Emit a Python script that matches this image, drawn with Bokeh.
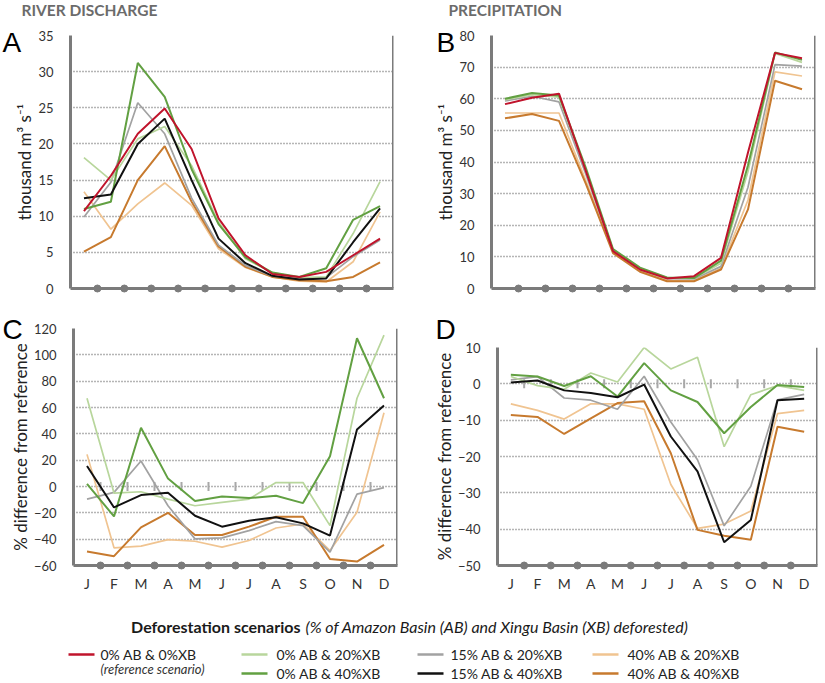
import math
from bokeh.plotting import figure
from bokeh.layouts import column, row
from bokeh.models import Range1d, FixedTicker, Span
from bokeh.embed import file_html
from bokeh.resources import INLINE
from bokeh.core.properties import value

# ---------------- data ----------------
MONTHS = ["J", "F", "M", "A", "M", "J", "J", "A", "S", "O", "N", "D"]

NAMES = {
    "ref": "0% AB & 0%XB",
    "g20": "0% AB & 20%XB",
    "g40": "0% AB & 40%XB",
    "k20": "15% AB & 20%XB",
    "k40": "15% AB & 40%XB",
    "o20": "40% AB & 20%XB",
    "o40": "40% AB & 40%XB",
}
REF_NOTE = "(reference scenario)"

# A: river discharge (thousand m3 s-1)
A_ref = [10.7, 15.6, 21.4, 24.9, 19.3, 9.7, 4.6, 2.0, 1.6, 2.3, 4.6, 6.9]
A_g20 = [18.1, 15.0, 20.7, 22.4, 17.0, 9.2, 4.1, 2.2, 1.5, 1.6, 7.6, 14.8]
A_g40 = [11.0, 12.0, 31.2, 26.5, 16.5, 8.9, 4.3, 2.2, 1.6, 2.8, 9.5, 11.4]
A_k20 = [9.9, 14.7, 25.7, 21.4, 12.5, 6.0, 3.2, 1.7, 1.4, 1.5, 4.4, 6.7]
A_k40 = [12.5, 13.0, 20.0, 23.5, 15.0, 6.9, 3.5, 1.75, 1.25, 1.4, 6.4, 11.1]
A_o20 = [13.4, 8.2, 11.7, 14.6, 11.5, 5.5, 2.9, 1.6, 1.0, 0.9, 3.7, 10.6]
A_o40 = [5.1, 7.1, 15.0, 19.7, 12.0, 5.8, 3.0, 1.6, 1.15, 1.0, 1.6, 3.6]

# B: precipitation (thousand m3 s-1)
B_ref = [58.3, 60.3, 61.6, 37.0, 11.8, 6.0, 3.2, 3.9, 9.7, 43.0, 74.5, 72.8]
B_g20 = [59.7, 61.3, 60.5, 37.5, 12.3, 6.4, 3.4, 3.2, 8.0, 37.0, 74.3, 71.5]
B_g40 = [60.0, 61.8, 61.0, 38.0, 12.5, 6.6, 3.5, 3.3, 8.8, 39.0, 74.6, 72.3]
B_k20 = [59.3, 60.8, 59.0, 36.0, 12.0, 6.0, 3.1, 3.0, 7.0, 32.0, 70.8, 70.3]
B_o20 = [55.5, 55.5, 55.5, 34.0, 11.6, 5.6, 2.6, 2.5, 6.4, 28.0, 68.5, 67.2]
B_o40 = [53.8, 55.2, 53.0, 33.0, 11.2, 5.3, 2.3, 2.3, 6.0, 25.0, 65.7, 63.0]

# C: % difference from reference, discharge
C_g20 = [67, -5, -4, -9.6, -14.6, -12, -9.6, 3, 3, -29.7, 67, 115]
C_g40 = [2, -22.7, 44.6, 6, -11, -7.6, -8.8, -7, -12.6, 23, 112.6, 67]
C_k20 = [-9.6, -4.5, 19.4, -14.6, -39.8, -39, -33.5, -26.7, -29.7, -49.9, -5.8, -0.8]
C_k40 = [15.6, -15.9, -6.5, -4.8, -22.2, -30.5, -26, -23.4, -28, -37.3, 43.3, 61.5]
C_o20 = [24.4, -46.6, -45.3, -40.3, -41.6, -46, -41, -31.5, -28.5, -48.6, -19.6, 56]
C_o40 = [-49.4, -52.9, -31, -20, -36.8, -36.8, -30.5, -23, -23, -55, -57, -44.3]

# D: % difference from reference, precipitation
D_g20 = [2, -0.5, -1.5, 3, 0.5, 10, 4.1, 7.3, -17.3, -3, -0.5, -1.8]
D_g40 = [2.5, 2, -0.6, 2.1, -3.5, 5.7, -1.8, -5, -13.6, -6.4, -0.3, -0.9]
D_k20 = [1.1, 2, -3.9, -4.5, -7, 2.1, -10.5, -20.9, -39.1, -28.2, -4.4, -2.9]
D_k40 = [0.4, 0.9, -1.8, -2.5, -3.7, -0.2, -14.5, -24.1, -43.6, -37.5, -4.5, -4.1]
D_o20 = [-5.5, -7.3, -9.7, -5.5, -5.5, -7, -27.7, -39.8, -38.6, -35, -8.2, -7.3]
D_o40 = [-8.6, -9.1, -13.8, -9.5, -5.3, -4.8, -19.1, -40.2, -41.8, -42.9, -11.8, -13.2]

A_TICKS = [0, 5, 10, 15, 20, 25, 30, 35]
B_TICKS = [0, 10, 20, 30, 40, 50, 60, 70, 80]
C_TICKS = [-60, -40, -20, 0, 20, 40, 60, 80, 100, 120]
D_TICKS = [-50, -40, -30, -20, -10, 0, 10]

# ---------------- style ----------------
COLORS = {
    "ref": "#c0142c",
    "g20": "#b8d69c",
    "g40": "#62a042",
    "k20": "#a2a2a2",
    "k40": "#111111",
    "o20": "#f0c491",
    "o40": "#c77a2e",
}
WIDTHS = {"ref": 2.0, "g20": 1.7, "g40": 2.0, "k20": 1.7, "k40": 2.0, "o20": 1.7, "o40": 2.0}
DRAW_ORDER = ["o20", "o40", "k20", "g20", "g40", "k40", "ref"]
AXIS_GRAY = "#7b7b7b"
FONT = "Lato"

XC = [i + 0.5 for i in range(len(MONTHS))]
XB = list(range(1, len(MONTHS)))


def panel(width, height, bl, br, bt, bb, yticks, ylabel, series, months,
          letter, letter_dx, letter_dy, zero_ticks=False, title=None, title_dx=0):
    y0, y1 = yticks[0], yticks[-1]
    p = figure(width=width, height=height, x_range=Range1d(0, len(MONTHS)),
               y_range=Range1d(y0, y1), toolbar_location=None, output_backend="svg",
               min_border_left=bl, min_border_right=br, min_border_top=bt,
               min_border_bottom=bb)
    p.outline_line_color = None
    p.background_fill_color = "white"
    p.border_fill_color = "white"
    p.xgrid.grid_line_color = None
    p.ygrid.grid_line_color = "#6a6a6a"
    p.ygrid.grid_line_dash = "1 2"
    p.ygrid.grid_line_width = 1.3

    for ax in (p.xaxis[0], p.yaxis[0]):
        ax.axis_line_color = AXIS_GRAY
        ax.axis_line_width = 3
        ax.major_tick_line_color = None
        ax.minor_tick_line_color = None
        ax.major_label_text_font = FONT
        ax.major_label_text_color = "#333333"
        ax.major_label_text_font_size = "13px"

    p.yaxis.ticker = FixedTicker(ticks=yticks)
    p.yaxis.major_label_standoff = 11
    p.yaxis.axis_label = ylabel
    p.yaxis.axis_label_text_font = FONT
    p.yaxis.axis_label_text_font_style = "normal"
    p.yaxis.axis_label_text_font_size = "17px"
    p.yaxis.axis_label_text_color = "#222222"
    p.yaxis.axis_label_standoff = 0

    if months:
        p.xaxis.ticker = FixedTicker(ticks=XC)
        p.xaxis.major_label_overrides = {x: m for x, m in zip(XC, MONTHS)}
        p.xaxis.major_label_standoff = 3
        p.xaxis.major_label_text_font_size = "14px"
    else:
        p.xaxis.ticker = FixedTicker(ticks=[])

    p.add_layout(Span(location=len(MONTHS), dimension="height",
                      line_color=AXIS_GRAY, line_width=3))

    if zero_ticks:
        p.scatter(x=XB, y=[0] * len(XB), marker="dash", angle=math.pi / 2,
                  size=9, line_color="#a8a8a8", line_width=2)

    for k in DRAW_ORDER:
        if k in series:
            p.line(x=XC, y=series[k], line_color=COLORS[k], line_width=WIDTHS[k])

    p.scatter(x=XB, y=[y0] * len(XB), size=7, color=AXIS_GRAY, level="overlay")

    # panel letter and section title, placed relative to the frame's top-left corner
    p.text(x=[0], y=[y1], text=[letter], x_offset=letter_dx, y_offset=letter_dy,
           text_font=value("Liberation Sans"), text_font_size=value("28px"),
           text_color="black", text_baseline="alphabetic", text_align="left",
           level="overlay")
    if title:
        p.text(x=[0], y=[y1], text=[title], x_offset=title_dx, y_offset=-26,
               text_font=value(FONT), text_font_size=value("15.5px"),
               text_font_style="bold", text_color="#6b6b6b",
               text_baseline="alphabetic", text_align="left", level="overlay")
    return p


UNIT = "thousand m\u00b3 s\u207b\u00b9"
PCT = "% difference from reference"

pA = panel(412, 308, 70, 19, 35, 20, A_TICKS, UNIT,
           dict(ref=A_ref, g20=A_g20, g40=A_g40, k20=A_k20, k40=A_k40, o20=A_o20, o40=A_o40),
           False, "A", -68, 7, title="RIVER DISCHARGE", title_dx=-49)
pB = panel(413, 308, 79, 10, 35, 20, B_TICKS, UNIT,
           dict(ref=B_ref, g20=B_g20, g40=B_g40, k20=B_k20, o20=B_o20, o40=B_o40),
           False, "B", -55, 7, title="PRECIPITATION", title_dx=-43)
pC = panel(412, 286, 73, 15, 20, 28, C_TICKS, PCT,
           dict(g20=C_g20, g40=C_g40, k20=C_k20, k40=C_k40, o20=C_o20, o40=C_o40),
           True, "C", -71, 1, zero_ticks=True)
pD = panel(413, 286, 85, 8, 39, 27, D_TICKS, PCT,
           dict(g20=D_g20, g40=D_g40, k20=D_k20, k40=D_k40, o20=D_o20, o40=D_o40),
           True, "D", -62, -18, zero_ticks=True)

# ---------------- legend ----------------
LW, LH = 825, 89
lg = figure(width=LW, height=LH, x_range=Range1d(0, LW), y_range=Range1d(LH, 0),
            toolbar_location=None, output_backend="svg", x_axis_type=None,
            y_axis_type=None, min_border=0)
lg.outline_line_color = None
lg.xgrid.visible = False
lg.ygrid.visible = False

lg.text(x=[300], y=[32], text=["Deforestation scenarios"], text_align="right",
        text_baseline="middle", text_font=value(FONT), text_font_style="bold",
        text_font_size=value("16px"), text_color="#1a1a1a")
lg.text(x=[305], y=[32], text=["(% of Amazon Basin (AB) and Xingu Basin (XB) deforested)"],
        text_align="left", text_baseline="middle", text_font=value(FONT),
        text_font_style="italic", text_font_size=value("16px"), text_color="#1a1a1a")

COL_LINE_X = [68, 241, 417, 592]
COL_TEXT_X = [100, 276, 450, 627]
ROW_Y = [60, 79]
LEG_LAYOUT = [("ref", 0, 0), ("g20", 1, 0), ("k20", 2, 0), ("o20", 3, 0),
              ("g40", 1, 1), ("k40", 2, 1), ("o40", 3, 1)]
lx0 = [COL_LINE_X[c] for _, c, r in LEG_LAYOUT]
lx1 = [COL_LINE_X[c] + 26 for _, c, r in LEG_LAYOUT]
ly = [ROW_Y[r] for _, c, r in LEG_LAYOUT]
lg.segment(x0=lx0, y0=ly, x1=lx1, y1=ly, line_color=[COLORS[k] for k, _, _ in LEG_LAYOUT],
           line_width=2.5)
lg.text(x=[COL_TEXT_X[c] for _, c, r in LEG_LAYOUT], y=ly,
        text=[NAMES[k] for k, _, _ in LEG_LAYOUT], text_baseline="middle",
        text_font=value(FONT), text_font_size=value("14px"), text_color="#222222")
lg.text(x=[COL_TEXT_X[0]], y=[74], text=[REF_NOTE], text_baseline="middle",
        text_font=value(FONT), text_font_style="italic", text_font_size=value("13px"),
        text_color="#333333")

layout = column(row(column(pA), column(pB)), row(column(pC), column(pD)), lg)
open("out.html", "w").write(file_html(layout, INLINE))
